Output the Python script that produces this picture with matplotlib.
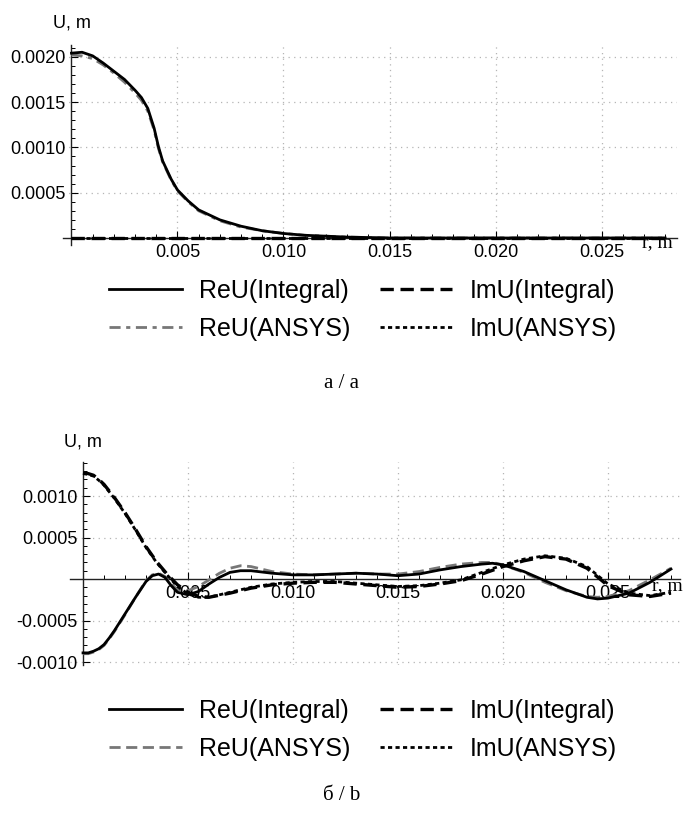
import matplotlib
matplotlib.use("Agg")
import matplotlib.pyplot as plt
from matplotlib.ticker import MultipleLocator, FixedLocator, FixedFormatter

plt.rcParams['font.family'] = ['Liberation Sans', 'DejaVu Sans']

# ---- panel a ----
r_a = [0, 0.0005, 0.001, 0.0015, 0.002, 0.0025, 0.003, 0.0033, 0.0036, 0.0039,
       0.0041, 0.0043, 0.0047, 0.005, 0.0055, 0.006, 0.007, 0.008, 0.009, 0.010,
       0.011, 0.012, 0.013, 0.015, 0.020, 0.025, 0.028]
re_int_a = [0.00204, 0.00205, 0.00201, 0.00193, 0.00184, 0.00175, 0.00163, 0.00155, 0.00143, 0.00121,
            0.00101, 0.00085, 0.00065, 0.00053, 0.00041, 0.00031, 0.00020, 0.00013, 0.00008, 0.00005,
            0.00003, 0.00002, 0.00001, 0.0, 0.0, 0.0, 0.0]
re_ans_a = [0.00202, 0.00201, 0.00198, 0.00191, 0.00182, 0.00172, 0.00160, 0.00152, 0.00140, 0.00119,
            0.00099, 0.00084, 0.00064, 0.00052, 0.00040, 0.00030, 0.00019, 0.00012, 0.00008, 0.00005,
            0.00003, 0.00002, 0.00001, 0.0, 0.0, 0.0, 0.0]
r_im_a = [0, 0.005, 0.010, 0.015, 0.020, 0.025, 0.028]
im_int_a = [0.0, 0.0, 0.0, 0.0, 0.0, 0.0, 0.0]
im_ans_a = [0.0, 0.0, 0.0, 0.0, 0.0, 0.0, 0.0]

# ---- panel b ----
r_re_b = [0, 0.00025, 0.0005, 0.00075, 0.001, 0.00125, 0.0015, 0.00175, 0.002, 0.0025,
          0.003, 0.0033, 0.0036, 0.0039, 0.0042, 0.0045, 0.005, 0.0055, 0.006, 0.0065,
          0.007, 0.0075, 0.008, 0.009, 0.010, 0.011, 0.012, 0.013, 0.014, 0.015,
          0.016, 0.017, 0.018, 0.019, 0.0195, 0.020, 0.021, 0.022, 0.023, 0.024,
          0.0245, 0.025, 0.026, 0.027, 0.028]
re_int_b = [-0.00089, -0.00089, -0.00087, -0.00084, -0.00079, -0.00071, -0.00062, -0.00052, -0.00042, -0.00022,
            -0.00003, 0.00004, 0.00006, 0.00002, -0.00008, -0.00016, -0.00019, -0.00015, -0.00006, 0.00002,
            0.00008, 0.00010, 0.00010, 0.00007, 0.00005, 0.00005, 0.00006, 0.00007, 0.00006, 0.00004,
            0.00006, 0.00011, 0.00015, 0.00018, 0.00019, 0.00017, 0.00009, -0.00002, -0.00013, -0.00022,
            -0.00024, -0.00023, -0.00017, -0.00004, 0.00012]
re_ans_b = [-0.00090, -0.00090, -0.00088, -0.00085, -0.00080, -0.00072, -0.00063, -0.00053, -0.00043, -0.00022,
            -0.00002, 0.00005, 0.00007, 0.00003, -0.00006, -0.00013, -0.00014, -0.00009, -0.00001, 0.00007,
            0.00013, 0.00016, 0.00015, 0.00009, 0.00006, 0.00005, 0.00006, 0.00007, 0.00006, 0.00006,
            0.00009, 0.00014, 0.00018, 0.00020, 0.00020, 0.00017, 0.00008, -0.00004, -0.00014, -0.00021,
            -0.00022, -0.00021, -0.00014, -0.00001, 0.00013]
r_im_b = [0, 0.00025, 0.0005, 0.00075, 0.001, 0.0015, 0.002, 0.0025, 0.003, 0.0035,
          0.004, 0.0045, 0.005, 0.0055, 0.006, 0.007, 0.008, 0.009, 0.010, 0.011,
          0.012, 0.013, 0.014, 0.015, 0.016, 0.017, 0.018, 0.019, 0.020, 0.021,
          0.022, 0.023, 0.024, 0.025, 0.026, 0.027, 0.028]
im_int_b = [0.00128, 0.00127, 0.00125, 0.00120, 0.00114, 0.00098, 0.00080, 0.00060, 0.00039, 0.00021,
            0.00006, -0.00007, -0.00016, -0.00021, -0.00022, -0.00017, -0.00011, -0.00007, -0.00005, -0.00004,
            -0.00004, -0.00006, -0.00008, -0.00010, -0.00009, -0.00006, -0.00002, 0.00006, 0.00015, 0.00022,
            0.00027, 0.00024, 0.00013, -0.00008, -0.00019, -0.00021, -0.00017]
im_ans_b = [0.00127, 0.00126, 0.00124, 0.00119, 0.00113, 0.00097, 0.00079, 0.00059, 0.00038, 0.00020,
            0.00005, -0.00009, -0.00018, -0.00022, -0.00022, -0.00016, -0.00010, -0.00006, -0.00004, -0.00003,
            -0.00003, -0.00005, -0.00007, -0.00009, -0.00008, -0.00005, -0.00001, 0.00008, 0.00017, 0.00024,
            0.00028, 0.00025, 0.00015, -0.00006, -0.00017, -0.00020, -0.00016]

xticks = [0.005, 0.010, 0.015, 0.020, 0.025]
xticklabels = ["0.005", "0.010", "0.015", "0.020", "0.025"]
yticks_a = [0.0005, 0.0010, 0.0015, 0.0020]
yticklabels_a = ["0.0005", "0.0010", "0.0015", "0.0020"]
yticks_b = [-0.0010, -0.0005, 0.0005, 0.0010]
yticklabels_b = ["-0.0010", "-0.0005", "0.0005", "0.0010"]
legend_labels = ["ReU(Integral)", "ReU(ANSYS)", "ImU(Integral)", "ImU(ANSYS)"]

W, H = 685, 814
fig = plt.figure(figsize=(W / 100, H / 100), dpi=100)


def setup(ax, xlim, ylim, yticks, yticklabels):
    ax.set_xlim(*xlim)
    ax.set_ylim(*ylim)
    for s in ['top', 'right']:
        ax.spines[s].set_visible(False)
    ax.spines['left'].set_position(('data', 0))
    ax.spines['bottom'].set_position(('data', 0))
    for s in ['left', 'bottom']:
        ax.spines[s].set_linewidth(1.0)
        ax.spines[s].set_color('#222222')
    ax.xaxis.set_major_locator(FixedLocator(xticks))
    ax.xaxis.set_major_formatter(FixedFormatter(xticklabels))
    ax.yaxis.set_major_locator(FixedLocator(yticks))
    ax.yaxis.set_major_formatter(FixedFormatter(yticklabels))
    ax.xaxis.set_minor_locator(MultipleLocator(0.001))
    ax.yaxis.set_minor_locator(MultipleLocator(0.0001))
    ax.tick_params(which='major', direction='in', length=5, width=0.8, labelsize=13, pad=4)
    ax.tick_params(which='minor', direction='in', length=3, width=0.7)
    ax.grid(True, which='major', color='#b5b5b5', linestyle=(0, (1, 3.5)), linewidth=0.9)
    ax.set_axisbelow(True)


def draw_legend(handles, y):
    fig.legend(handles, legend_labels, ncol=2, loc='center',
               bbox_to_anchor=(363 / W, 1 - y / H), frameon=False, fontsize=18,
               handlelength=2.9, handletextpad=0.7, columnspacing=1.15, labelspacing=0.55)


# panel a
ax1 = fig.add_axes([63 / W, 1 - 245 / H, 614 / W, 200 / H])
setup(ax1, (-0.0004, 0.02856), (-0.0000773, 0.00213), yticks_a, yticklabels_a)
h1, = ax1.plot(r_a, re_int_a, color='black', lw=2.0, zorder=4)
h2, = ax1.plot(r_a, re_ans_a, color='#777777', lw=2.0, linestyle=(0, (4, 2, 1.5, 2)), zorder=3)
h3, = ax1.plot(r_im_a, im_int_a, color='black', lw=2.4, linestyle=(0, (4, 2)), zorder=4)
h4, = ax1.plot(r_im_a, im_ans_a, color='black', lw=2.0, linestyle=(0, (1.5, 1.2)), zorder=4)
fig.text(72 / W, 1 - 23 / H, "U, m", ha='center', va='center', fontsize=13)
fig.text(657 / W, 1 - 243 / H, "r, m", ha='center', va='center', fontsize=14,
         family=['Liberation Serif', 'DejaVu Serif'])
draw_legend([h1, h2, h3, h4], 310)
fig.text(342 / W, 1 - 383 / H, "a / a", ha='center', va='center', fontsize=15,
         family=['Liberation Serif', 'DejaVu Serif'])

# panel b
ax2 = fig.add_axes([70 / W, 1 - 665 / H, 610 / W, 203 / H])
setup(ax2, (-0.00062, 0.02843), (-0.001036, 0.00141), yticks_b, yticklabels_b)
g1, = ax2.plot(r_re_b, re_int_b, color='black', lw=2.0, zorder=4)
g2, = ax2.plot(r_re_b, re_ans_b, color='#777777', lw=2.0, linestyle=(0, (4, 2)), zorder=3)
g3, = ax2.plot(r_im_b, im_int_b, color='black', lw=2.4, linestyle=(0, (4, 2)), zorder=4)
g4, = ax2.plot(r_im_b, im_ans_b, color='black', lw=2.0, linestyle=(0, (1.5, 1.2)), zorder=4)
fig.text(83 / W, 1 - 442 / H, "U, m", ha='center', va='center', fontsize=13)
fig.text(667 / W, 1 - 586 / H, "r, m", ha='center', va='center', fontsize=14,
         family=['Liberation Serif', 'DejaVu Serif'])
draw_legend([g1, g2, g3, g4], 730)
fig.text(342 / W, 1 - 795 / H, "б / b", ha='center', va='center', fontsize=15,
         family=['Liberation Serif', 'DejaVu Serif'])

fig.savefig("out.png", dpi=100)
